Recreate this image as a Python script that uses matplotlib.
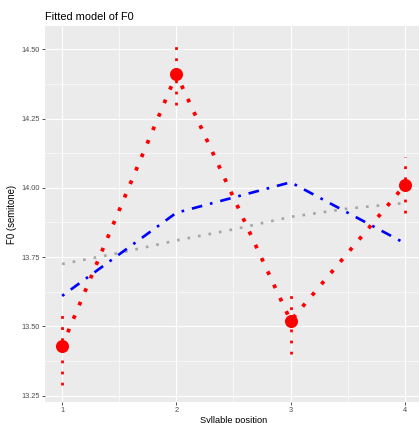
import matplotlib
matplotlib.use("Agg")
import matplotlib.pyplot as plt
from matplotlib.ticker import FixedLocator

# ---- data ----
positions = [1, 2, 3, 4]
observed = [13.43, 14.41, 13.52, 14.01]
err_low = [13.29, 14.30, 13.40, 13.91]
err_high = [13.565, 14.52, 13.63, 14.11]
blue_fit = [13.61, 13.91, 14.02, 13.80]
grey_x = [1, 1.5, 2, 2.5, 3, 3.5, 4]
grey_fit = [13.725, 13.765, 13.81, 13.85, 13.895, 13.925, 13.945]
xticks = [1, 2, 3, 4]
yticks = [13.25, 13.50, 13.75, 14.00, 14.25, 14.50]
ytick_labels = ["13.25", "13.50", "13.75", "14.00", "14.25", "14.50"]

W, H = 419, 423
fig = plt.figure(figsize=(W / 100, H / 100), dpi=100)
fig.patch.set_facecolor("white")
l, r, t, b = 45, 422, 26, 402
ax = fig.add_axes([l / W, (H - b) / H, (r - l) / W, (b - t) / H])
ax.set_facecolor("#EBEBEB")
for s in ax.spines.values():
    s.set_visible(False)

ax.set_xlim(0.85, 4.15)
ax.set_ylim(13.227, 14.584)

ax.xaxis.set_major_locator(FixedLocator(xticks))
ax.xaxis.set_minor_locator(FixedLocator([1.5, 2.5, 3.5]))
ax.yaxis.set_major_locator(FixedLocator(yticks))
ax.yaxis.set_minor_locator(FixedLocator([13.375, 13.625, 13.875, 14.125, 14.375]))
ax.set_yticklabels(ytick_labels)
ax.grid(which="major", color="white", linewidth=0.85)
ax.grid(which="minor", color="white", linewidth=0.43)
ax.set_axisbelow(True)
ax.tick_params(which="major", length=2.0, width=0.6, color="#333333",
               labelsize=5.3, labelcolor="#4D4D4D", pad=1.5)
ax.tick_params(which="minor", length=0)

font = "Liberation Sans"
for lab in ax.get_xticklabels() + ax.get_yticklabels():
    lab.set_fontfamily(font)

# grey smooth dotted
ax.plot(grey_x, grey_fit, color="#A6A6A6", linewidth=1.92,
        dashes=(1, 3), dash_capstyle="butt", zorder=2)
# blue dash-dot
ax.plot(positions, blue_fit, color="#0000FF", linewidth=1.92,
        dashes=(1, 3, 4, 3), dash_capstyle="butt", zorder=3)
# red dotted connecting line
ax.plot(positions, observed, color="#FF0000", linewidth=2.7,
        dashes=(1, 2.9), dash_capstyle="butt", zorder=4)
# error bars
for x, lo, hi in zip(positions, err_low, err_high):
    ax.plot([x, x], [lo, hi], color="#FF0000", linewidth=2.0,
            dashes=(1, 3), dash_capstyle="butt", zorder=4)
# points
ax.plot(positions, observed, linestyle="none", marker="o", markersize=9.4,
        color="#FF0000", markeredgewidth=0, zorder=5)

ax.set_xlabel("Syllable position", fontsize=6.7, fontfamily=font, labelpad=1.2)
ax.set_ylabel("F0 (semitone)", fontsize=6.9, fontfamily=font, labelpad=3)
fig.text(l / W, 1 - 17 / H, "Fitted model of F0", fontsize=7.9,
         fontfamily=font, ha="left", va="center")

fig.savefig("out.png", dpi=100)
